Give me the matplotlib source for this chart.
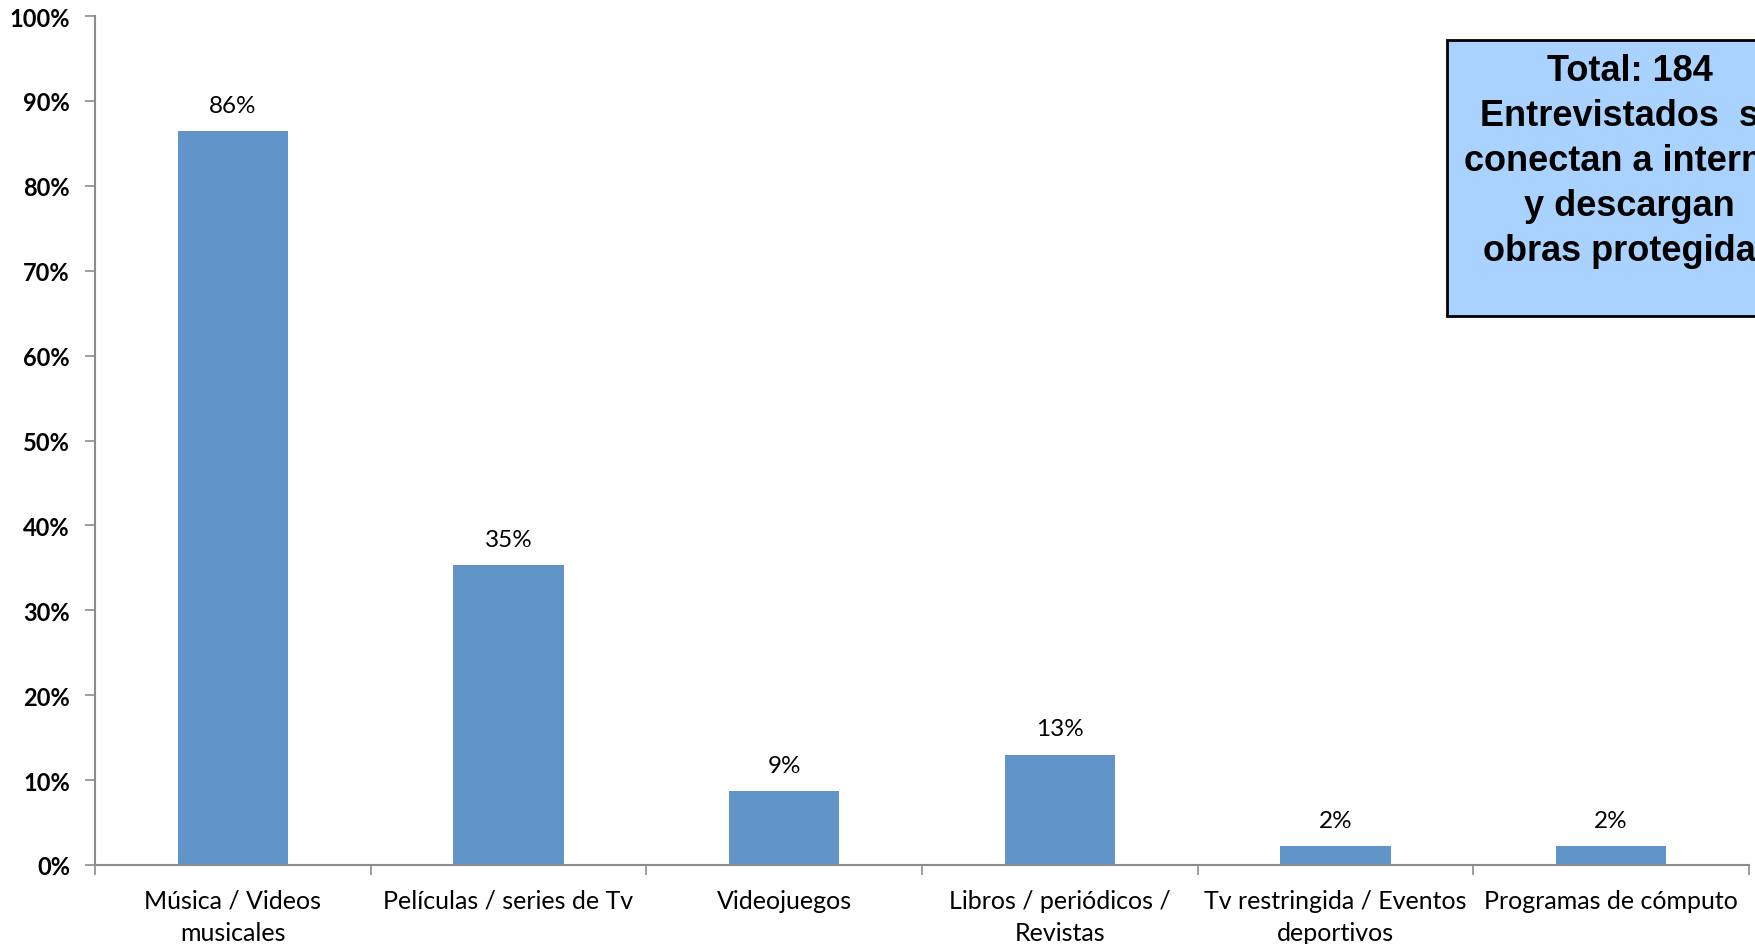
import matplotlib
matplotlib.use("Agg")
import matplotlib.pyplot as plt
from matplotlib.patches import Rectangle
from matplotlib.ticker import PercentFormatter

# Data
categories = [
    "Música / Videos\nmusicales",
    "Películas / series de Tv",
    "Videojuegos",
    "Libros / periódicos /\nRevistas",
    "Tv restringida / Eventos\ndeportivos",
    "Programas de cómputo",
]
values = [86.4, 35.3, 8.7, 13.0, 2.2, 2.2]
value_labels = ["86%", "35%", "9%", "13%", "2%", "2%"]
y_ticks = list(range(0, 101, 10))
note_text = "Total: 184\nEntrevistados  se\nconectan a internet\ny descargan\nobras protegidas"

BAR_COLOR = "#6195C9"
AXIS_COLOR = "#8C8C8C"
FONT = ["Lato", "DejaVu Sans"]

fig = plt.figure(figsize=(17.56, 9.45), dpi=100)
ax = fig.add_axes([0.0541, 0.0836, 0.9419, 0.8984])

x = list(range(len(categories)))
ax.bar(x, values, width=0.4, color=BAR_COLOR, zorder=2)

for xi, v, lab in zip(x, values, value_labels):
    ax.annotate(lab, (xi, v), xytext=(0, 11), textcoords="offset points",
                ha="center", va="bottom", fontsize=17.5, family=FONT)

ax.set_xlim(-0.5, len(categories) - 0.5)
ax.set_ylim(0, 100)
ax.set_yticks(y_ticks)
ax.yaxis.set_major_formatter(PercentFormatter(decimals=0))
for t in ax.get_yticklabels():
    t.set_fontweight("bold")
    t.set_fontsize(17)
    t.set_family(FONT)

ax.set_xticks(x)
ax.set_xticklabels(categories, fontsize=18, family=FONT, linespacing=1.5)
ax.set_xticks([i - 0.5 for i in range(len(categories) + 1)], minor=True)
ax.tick_params(axis="x", which="major", length=0, pad=17)
ax.tick_params(axis="x", which="minor", length=7, color=AXIS_COLOR, width=1.2)
ax.tick_params(axis="y", length=7, color=AXIS_COLOR, width=1.2, pad=11)

for side in ["top", "right"]:
    ax.spines[side].set_visible(False)
for side in ["left", "bottom"]:
    ax.spines[side].set_color(AXIS_COLOR)
    ax.spines[side].set_linewidth(1.5)

# Note box (runs off the right edge like the original slide)
fig.patches.append(Rectangle((0.824, 0.665), 0.21, 0.292, transform=fig.transFigure,
                             facecolor="#A9D3FE", edgecolor="black", linewidth=2,
                             zorder=5))
fig.text(0.928, 0.829, note_text, ha="center", va="center", multialignment="center",
         fontsize=26, fontweight="bold", family=["Liberation Sans", "DejaVu Sans"],
         linespacing=1.37, zorder=6)

fig.savefig("out.png", dpi=100)
